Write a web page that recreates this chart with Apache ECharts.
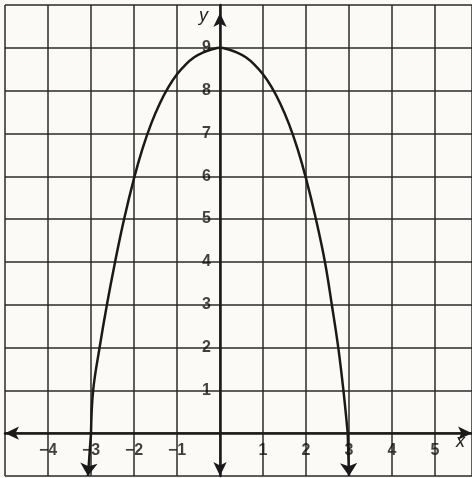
<!DOCTYPE html>
<html>
<head>
<meta charset="utf-8" />
<title>y = 9 - x^2</title>
<script src="https://cdn.jsdelivr.net/npm/echarts@6/dist/echarts.min.js"></script>
<style>
  html, body { margin: 0; padding: 0; background: #fbfaf6; }
  #chart { width: 472px; height: 478px; }
</style>
</head>
<body>
<div id="chart"></div>
<script>
// points (x, y)
var curveX = [-3, -2.95, -2.8, -2.63, -2.44, -2.23, -2, -1.8, -1.6, -1.4, -1.2, -1, -0.8, -0.6, -0.4, -0.2, 0,
              0.2, 0.4, 0.6, 0.8, 1, 1.2, 1.4, 1.6, 1.8, 2, 2.23, 2.44, 2.6, 2.75, 2.87, 2.97];
var curveY = [0, 1, 2, 3, 4, 5, 5.95, 6.65, 7.23, 7.7, 8.08, 8.38, 8.61, 8.78, 8.89, 8.96, 9,
              8.96, 8.89, 8.78, 8.61, 8.38, 8.08, 7.7, 7.23, 6.65, 5.95, 5, 4, 3, 2, 1, 0];
// arrow tails below the x axis
var tailLeft = [[-3, 0], [-3.07, -1]];
var tailRight = [[2.97, 0], [3.0, -1]];

var xTickVals = [-4, -3, -2, -1, 1, 2, 3, 4, 5];
var xTickText = ['\u22124', '\u22123', '\u22122', '\u22121', '1', '2', '3', '4', '5'];
var yTickVals = [1, 2, 3, 4, 5, 6, 7, 8, 9];
var xMin = -5, xMax = 5.86, yMin = -1, yMax = 10;

var curve = [];
for (var i = 0; i < curveX.length; i++) curve.push([curveX[i], curveY[i]]);
var xLab = [];
for (var i = 0; i < xTickVals.length; i++) xLab.push({ value: [xTickVals[i], 0], name: xTickText[i] });
var yLab = [];
for (var i = 0; i < yTickVals.length; i++) yLab.push({ value: [0, yTickVals[i]], name: String(yTickVals[i]) });

var ink = '#1a1a1a';
var labelFont = { color: '#111', fontSize: 16, fontFamily: 'Liberation Sans', fontWeight: 'bold' };

var chart = echarts.init(document.getElementById('chart'));
chart.setOption({
  backgroundColor: '#fbfaf6',
  animation: false,
  grid: { left: 5, top: 5, width: 467, height: 471 },
  xAxis: {
    type: 'value', min: xMin, max: xMax, interval: 1,
    name: 'x', nameLocation: 'end', nameGap: -16,
    nameTextStyle: { color: ink, fontSize: 18, fontStyle: 'italic', fontFamily: 'Liberation Sans', verticalAlign: 'top' },
    axisLine: { onZero: true, lineStyle: { color: ink, width: 2.5 }, symbol: ['arrow', 'arrow'], symbolSize: [10, 14] },
    axisTick: { show: false },
    axisLabel: { show: false },
    splitLine: { show: true, lineStyle: { color: '#2a2a2a', width: 1.5 } }
  },
  yAxis: {
    type: 'value', min: yMin, max: yMax, interval: 1,
    name: 'y', nameLocation: 'end', nameGap: -20,
    nameTextStyle: { color: ink, fontSize: 18, fontStyle: 'italic', fontFamily: 'Liberation Sans', align: 'right', padding: [0, 12, 0, 0] },
    axisLine: { onZero: true, lineStyle: { color: ink, width: 2.5 }, symbol: ['arrow', 'arrow'], symbolSize: [10, 14], symbolOffset: [0, -8] },
    axisTick: { show: false },
    axisLabel: { show: false },
    splitLine: { show: true, lineStyle: { color: '#2a2a2a', width: 1.5 } }
  },
  series: [
    {
      type: 'line', data: curve, smooth: 0.4, showSymbol: false,
      lineStyle: { color: ink, width: 2.5 }
    },
    {
      type: 'lines', coordinateSystem: 'cartesian2d',
      symbol: ['none', 'arrow'], symbolSize: 13,
      lineStyle: { color: ink, width: 2.5, opacity: 1 },
      data: [{ coords: tailLeft }, { coords: tailRight }]
    },
    {
      type: 'scatter', data: xLab, symbolSize: 2, itemStyle: { color: 'rgba(0,0,0,0)' }, silent: true,
      label: Object.assign({ show: true, position: 'bottom', distance: 8, formatter: '{b}' }, labelFont)
    },
    {
      type: 'scatter', data: yLab, symbolSize: 2, itemStyle: { color: 'rgba(0,0,0,0)' }, silent: true,
      label: Object.assign({ show: true, position: 'left', distance: 8, formatter: '{b}' }, labelFont)
    }
  ]
});
</script>
</body>
</html>
